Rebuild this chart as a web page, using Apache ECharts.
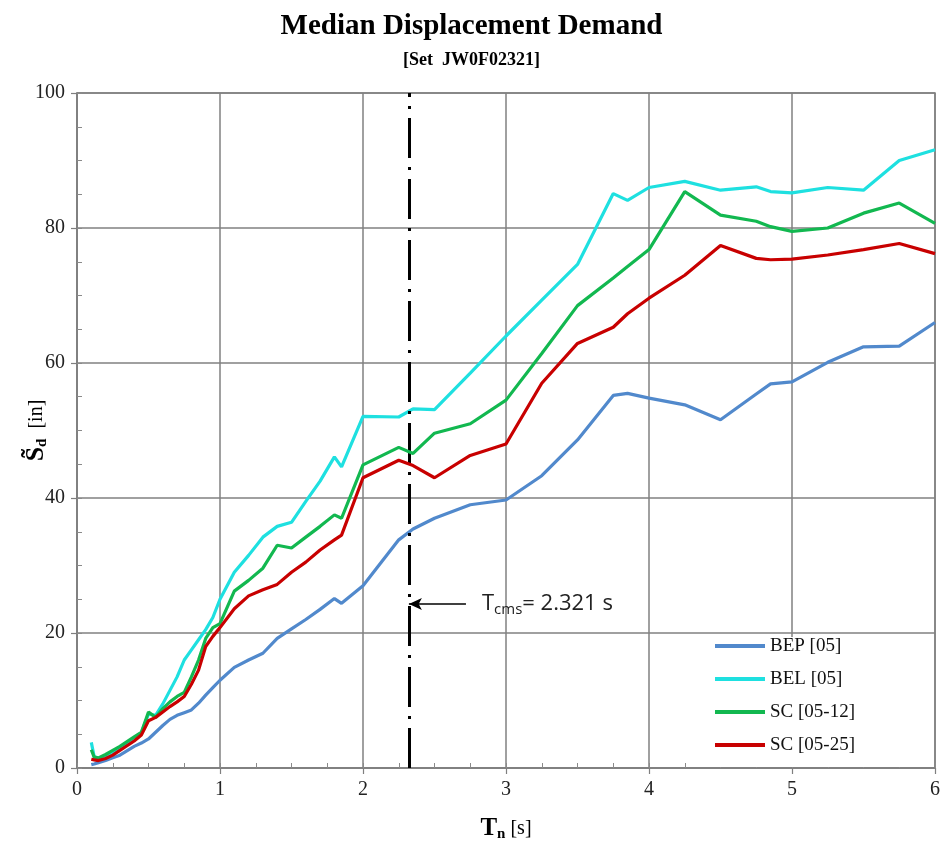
<!DOCTYPE html>
<html>
<head>
<meta charset="utf-8">
<script src="https://cdn.jsdelivr.net/npm/echarts@6/dist/echarts.min.js"></script>
<style>html,body{margin:0;padding:0;background:#fff}#c{width:943px;height:844px}</style>
</head>
<body>
<div id="c"></div>
<script>
const periods = [0.1, 0.12, 0.15, 0.2, 0.25, 0.3, 0.4, 0.45, 0.5, 0.55, 0.6, 0.65, 0.7, 0.75, 0.8, 0.85, 0.9, 0.95, 1.0, 1.1, 1.2, 1.3, 1.4, 1.5, 1.6, 1.7, 1.8, 1.85, 2.0, 2.25, 2.35, 2.5, 2.75, 3.0, 3.25, 3.5, 3.75, 3.85, 4.0, 4.25, 4.5, 4.75, 4.85, 5.0, 5.25, 5.5, 5.75, 6.0];
const BEP = [0.5, 0.6, 0.8, 1.1, 1.5, 1.9, 3.2, 3.7, 4.3, 5.3, 6.3, 7.2, 7.8, 8.2, 8.6, 9.6, 10.8, 11.9, 13.0, 14.9, 16.0, 17.0, 19.2, 20.6, 22.0, 23.5, 25.1, 24.4, 27.0, 33.8, 35.4, 37.0, 39.0, 39.7, 43.3, 48.6, 55.2, 55.5, 54.8, 53.8, 51.6, 55.4, 56.9, 57.2, 60.1, 62.4, 62.5, 66.0];
const BEL = [3.8, 1.7, 1.4, 1.8, 2.4, 3.0, 4.4, 5.2, 8.0, 7.8, 9.5, 11.5, 13.5, 16.0, 17.5, 19.0, 20.5, 22.3, 25.0, 29.0, 31.5, 34.2, 35.8, 36.4, 39.5, 42.5, 46.1, 44.6, 52.1, 52.0, 53.2, 53.1, 58.5, 64.0, 69.3, 74.6, 85.1, 84.1, 86.0, 86.9, 85.6, 86.1, 85.4, 85.2, 86.0, 85.6, 90.0, 91.6];
const SC12 = [2.7, 1.6, 1.5, 2.0, 2.6, 3.2, 4.6, 5.3, 8.3, 7.5, 8.8, 9.8, 10.6, 11.2, 13.5, 16.0, 19.2, 20.8, 21.4, 26.2, 27.8, 29.6, 33.0, 32.6, 34.2, 35.8, 37.5, 37.0, 44.9, 47.5, 46.6, 49.6, 51.0, 54.5, 61.4, 68.5, 72.6, 74.3, 76.8, 85.4, 81.9, 81.0, 80.2, 79.5, 80.0, 82.2, 83.7, 80.7];
const SC25 = [1.3, 1.2, 1.1, 1.4, 1.9, 2.6, 4.0, 4.9, 7.0, 7.5, 8.3, 9.1, 9.8, 10.6, 12.4, 14.5, 18.0, 19.5, 20.8, 23.6, 25.5, 26.4, 27.2, 29.0, 30.5, 32.3, 33.8, 34.5, 43.0, 45.6, 44.8, 43.0, 46.3, 48.0, 57.0, 62.9, 65.3, 67.3, 69.6, 73.0, 77.4, 75.5, 75.3, 75.4, 76.0, 76.8, 77.7, 76.2];
const seriesNames = ['BEP [05]', 'BEL [05]', 'SC [05-12]', 'SC [05-25]'];
const seriesColors = ['#5189cc', '#1ee0e0', '#12b850', '#c80000'];
const seriesValues = [BEP, BEL, SC12, SC25];
const xTicks = [0, 1, 2, 3, 4, 5, 6];
const yTicks = [0, 20, 40, 60, 80, 100];
const Tcms = 2.321;
const arrowStart = [2.72, 24.3];

const serif = 'Liberation Serif, Times New Roman, serif';
const sans = 'Open Sans, Noto Sans, sans-serif';
const chart = echarts.init(document.getElementById('c'), null, {renderer: 'canvas'});

const series = seriesValues.map((vals, i) => ({
  name: seriesNames[i],
  type: 'line',
  xAxisIndex: 0, yAxisIndex: 0,
  data: periods.map((t, k) => [t, vals[k]]),
  showSymbol: false,
  symbol: 'none',
  lineStyle: {color: seriesColors[i], width: 3.2},
  itemStyle: {color: seriesColors[i]},
  z: 3 + i,
  animation: false
}));

series.push({
  type: 'line',
  data: [],
  xAxisIndex: 0, yAxisIndex: 0,
  silent: true,
  animation: false,
  markLine: {
    silent: true,
    animation: false,
    symbol: 'none',
    data: [
      {xAxis: Tcms, lineStyle: {color: '#000', width: 3, type: [40, 9, 3, 9]}, label: {show: false}},
      [
        {coord: arrowStart, symbol: 'none'},
        {coord: [Tcms, arrowStart[1]], symbol: 'arrow', symbolSize: [9, 13]}
      ]
    ],
    lineStyle: {color: '#000', width: 1.5, type: 'solid'},
    label: {
      show: true,
      position: 'start',
      distance: 16,
      formatter: '{a|T}{b|cms}{a|= ' + Tcms + ' s}',
      rich: {
        a: {fontFamily: sans, fontSize: 22, color: '#222'},
        b: {fontFamily: sans, fontSize: 15, color: '#222', verticalAlign: 'bottom', padding: [11, 0, 0, 0]}
      }
    }
  }
});

const option = {
  backgroundColor: '#fff',
  animation: false,
  title: [
    {text: 'Median Displacement Demand', left: 'center', top: 7,
     textStyle: {fontFamily: serif, fontWeight: 'bold', fontSize: 29, color: '#000'}},
    {text: '[Set  JW0F02321]', left: 'center', top: 46,
     textStyle: {fontFamily: serif, fontWeight: 'bold', fontSize: 18, color: '#000'}}
  ],
  grid: {left: 77, right: 8, top: 93, bottom: 76, show: true, borderColor: '#7f7f7f', borderWidth: 1.5,
         backgroundColor: 'transparent', containLabel: false, outerBoundsMode: 'none'},
  legend: {
    orient: 'vertical', left: 710, top: 631, padding: 5,
    itemWidth: 50, itemHeight: 4, itemGap: 13, icon: 'rect',
    textStyle: {fontFamily: serif, fontSize: 19, color: '#111', lineHeight: 20},
    data: seriesNames
  },
  graphic: [{
    type: 'rect', z: 1, silent: true,
    shape: {x: 700, y: 637, width: 234, height: 130},
    style: {fill: '#fff'}
  }],
  xAxis: [{
    type: 'value', min: xTicks[0], max: xTicks[xTicks.length - 1], interval: 1,
    name: '{t|T}{n|n}{s| [s]}', nameLocation: 'middle', nameGap: 47, nameMoveOverlap: false,
    nameTextStyle: {rich: {
      t: {fontFamily: serif, fontWeight: 'bold', fontSize: 25, color: '#000'},
      n: {fontFamily: serif, fontWeight: 'bold', fontSize: 15, color: '#000', verticalAlign: 'bottom', padding: [12, 0, 0, 0]},
      s: {fontFamily: serif, fontSize: 20, color: '#000'}
    }},
    axisLine: {show: true, lineStyle: {color: '#7f7f7f', width: 1.5}},
    axisTick: {show: true, length: 6, lineStyle: {color: '#7f7f7f', width: 1.2}},
    axisLabel: {fontFamily: serif, fontSize: 20, color: '#222', margin: 12},
    splitLine: {show: true, lineStyle: {color: '#808080', width: 1.5}}
  }, {
    type: 'value', min: 0, max: 6, interval: 0.25, position: 'bottom',
    axisLine: {show: false}, axisLabel: {show: false}, splitLine: {show: false},
    axisTick: {show: true, inside: true, length: 5, lineStyle: {color: '#8a8a8a', width: 1}}
  }],
  yAxis: [{
    type: 'value', min: yTicks[0], max: yTicks[yTicks.length - 1], interval: 20,
    name: '{s|S̃}{d|d}{u|  [in]}', nameLocation: 'middle', nameGap: 27, nameRotate: 90, nameMoveOverlap: false,
    nameTextStyle: {rich: {
      s: {fontFamily: serif, fontWeight: 'bold', fontSize: 26, color: '#000'},
      d: {fontFamily: serif, fontWeight: 'bold', fontSize: 15, color: '#000', verticalAlign: 'bottom', padding: [12, 0, 0, 0]},
      u: {fontFamily: serif, fontSize: 20, color: '#000'}
    }},
    axisLine: {show: true, lineStyle: {color: '#7f7f7f', width: 1.5}},
    axisTick: {show: true, length: 6, lineStyle: {color: '#7f7f7f', width: 1.2}},
    axisLabel: {fontFamily: serif, fontSize: 20, color: '#222', margin: 12},
    splitLine: {show: true, lineStyle: {color: '#808080', width: 1.5}}
  }, {
    type: 'value', min: 0, max: 100, interval: 5, position: 'left',
    axisLine: {show: false}, axisLabel: {show: false}, splitLine: {show: false},
    axisTick: {show: true, inside: true, length: 5, lineStyle: {color: '#8a8a8a', width: 1}}
  }],
  series: series
};
chart.setOption(option);
</script>
</body>
</html>
